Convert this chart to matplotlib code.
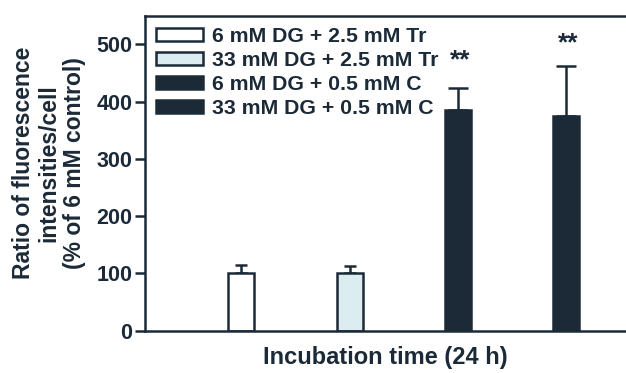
import matplotlib
matplotlib.use("Agg")
import matplotlib.pyplot as plt

plt.rcParams['font.family'] = ['Liberation Sans', 'DejaVu Sans']
plt.rcParams['font.weight'] = 'bold'

labels = ["6 mM DG + 2.5 mM Tr", "33 mM DG + 2.5 mM Tr",
          "6 mM DG + 0.5 mM C", "33 mM DG + 0.5 mM C"]
values = [100, 100, 385, 374]
errors = [14, 13, 39, 89]
stars = ["", "", "**", "**"]
star_y = [0, 0, 472, 501]
fills = ["#ffffff", "#dcedf2", "#1c2a38", "#1c2a38"]
positions = [1, 2, 3, 4]
yticks = [0, 100, 200, 300, 400, 500]

dark = "#1c2a38"

fig = plt.figure(figsize=(6.26, 3.73), dpi=100)
ax = fig.add_axes([145/626, 1-330.7/373, 1-145/626, (330.7-15.7)/373])

for i in range(4):
    ax.bar(positions[i], values[i], width=0.24, color=fills[i], edgecolor=dark,
           linewidth=1.8, label=labels[i], zorder=2)
    caps = 4.5 if i < 2 else 7
    ax.errorbar(positions[i], values[i], yerr=[[0], [errors[i]]], fmt='none',
                ecolor=dark, elinewidth=1.8, capsize=caps, capthick=1.8, zorder=1)
    if stars[i]:
        ax.text(positions[i] + 0.02, star_y[i], stars[i], ha='center', va='center',
                fontsize=19, fontweight='bold', color=dark)

ax.set_xlim(0.110, 4.555)
ax.set_ylim(0, 550)
ax.set_yticks(yticks)
ax.set_xticks([])
ax.tick_params(axis='y', length=7, width=1.8, pad=2, labelsize=15.5, colors=dark)
for lab in ax.get_yticklabels():
    lab.set_fontweight('bold')
for s in ['left', 'bottom', 'top']:
    ax.spines[s].set_linewidth(1.8)
    ax.spines[s].set_color(dark)
ax.spines['right'].set_visible(False)

ax.set_xlabel("Incubation time (24 h)", fontsize=17, fontweight='bold', color=dark, labelpad=11)
ax.set_ylabel("Ratio of fluorescence\nintensities/cell\n(% of 6 mM control)",
              fontsize=16.5, fontweight='bold', color=dark, linespacing=1.12)
ax.yaxis.set_label_coords(-0.1237, 0.532)

leg = ax.legend(loc='upper left', bbox_to_anchor=(10.5/481, 1 - 11/315), frameon=False,
                fontsize=15.3, handlelength=2.25, handleheight=0.57, handletextpad=0.4,
                labelspacing=0.24, borderpad=0, borderaxespad=0)
for t in leg.get_texts():
    t.set_color(dark)
    t.set_fontweight('bold')

fig.savefig("out.png", dpi=100)
